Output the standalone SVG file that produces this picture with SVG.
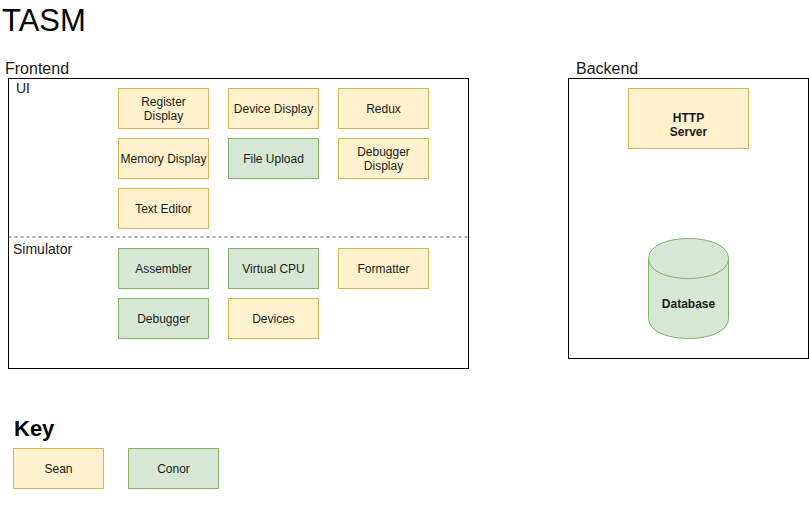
<svg xmlns="http://www.w3.org/2000/svg" width="809" height="529" viewBox="0 0 809 529">
<style>
text{font-family:"Liberation Sans",Arial,Helvetica,sans-serif;fill:#000}
.lbl{font-size:12px;text-anchor:middle;fill:#1a1a1a}
.y{fill:#fff2cc;stroke:#d6b656;stroke-width:1}
.g{fill:#d5e8d4;stroke:#82b366;stroke-width:1}
.c{fill:#fff;stroke:#000;stroke-width:1}
.t{font-size:16px;fill:#1a1a1a}
.s{font-size:14px;fill:#1a1a1a}
</style>
<rect width="809" height="529" fill="#fff"/>
<text x="2" y="31" font-size="31">TASM</text>
<g id="frontend">
<text class="t" x="5" y="74">Frontend</text>
<rect class="c" x="8.5" y="78.5" width="460" height="290"/>
<line x1="8.5" y1="237" x2="468.5" y2="237" stroke="#666" stroke-dasharray="3 3"/>
<text class="s" x="16" y="93">UI</text>
<text class="s" x="13" y="254">Simulator</text>
</g>
<g id="register-display"><rect class="y" x="118.5" y="88.5" width="90" height="40"/><text class="lbl" x="163.5" y="106">Register</text><text class="lbl" x="163.5" y="120">Display</text></g>
<g id="device-display"><rect class="y" x="228.5" y="88.5" width="90" height="40"/><text class="lbl" x="273.5" y="113">Device Display</text></g>
<g id="redux"><rect class="y" x="338.5" y="88.5" width="90" height="40"/><text class="lbl" x="383.5" y="113">Redux</text></g>
<g id="memory-display"><rect class="y" x="118.5" y="138.5" width="90" height="40"/><text class="lbl" x="163.5" y="163">Memory Display</text></g>
<g id="file-upload"><rect class="g" x="228.5" y="138.5" width="90" height="40"/><text class="lbl" x="273.5" y="163">File Upload</text></g>
<g id="debugger-display"><rect class="y" x="338.5" y="138.5" width="90" height="40"/><text class="lbl" x="383.5" y="156">Debugger</text><text class="lbl" x="383.5" y="170">Display</text></g>
<g id="text-editor"><rect class="y" x="118.5" y="188.5" width="90" height="40"/><text class="lbl" x="163.5" y="213">Text Editor</text></g>
<g id="assembler"><rect class="g" x="118.5" y="248.5" width="90" height="40"/><text class="lbl" x="163.5" y="273">Assembler</text></g>
<g id="virtual-cpu"><rect class="g" x="228.5" y="248.5" width="90" height="40"/><text class="lbl" x="273.5" y="273">Virtual CPU</text></g>
<g id="formatter"><rect class="y" x="338.5" y="248.5" width="90" height="40"/><text class="lbl" x="383.5" y="273">Formatter</text></g>
<g id="debugger"><rect class="g" x="118.5" y="298.5" width="90" height="40"/><text class="lbl" x="163.5" y="323">Debugger</text></g>
<g id="devices"><rect class="y" x="228.5" y="298.5" width="90" height="40"/><text class="lbl" x="273.5" y="323">Devices</text></g>
<g id="backend">
<text class="t" x="576" y="74">Backend</text>
<rect class="c" x="568.5" y="78.5" width="240" height="280"/>
</g>
<g id="http-server"><rect class="y" x="628.5" y="88.5" width="120" height="60"/><text class="lbl" x="688.5" y="122" font-weight="bold">HTTP</text><text class="lbl" x="688.5" y="136" font-weight="bold">Server</text></g>
<g id="database">
<path class="g" d="M648.5,258.5 C648.5,231.8 728.5,231.8 728.5,258.5 L728.5,318.5 C728.5,345.2 648.5,345.2 648.5,318.5 Z"/>
<path fill="none" stroke="#82b366" d="M648.5,258.5 C648.5,285.2 728.5,285.2 728.5,258.5"/>
<text class="lbl" x="688.5" y="308" font-weight="bold">Database</text>
</g>
<g id="connectors"></g>
<g id="key">
<text x="14" y="436" font-size="22" font-weight="bold">Key</text>
</g>
<g id="key-sean"><rect class="y" x="13.5" y="448.5" width="90" height="40"/><text class="lbl" x="58.5" y="473">Sean</text></g>
<g id="key-conor"><rect class="g" x="128.5" y="448.5" width="90" height="40"/><text class="lbl" x="173.5" y="473">Conor</text></g>
</svg>
